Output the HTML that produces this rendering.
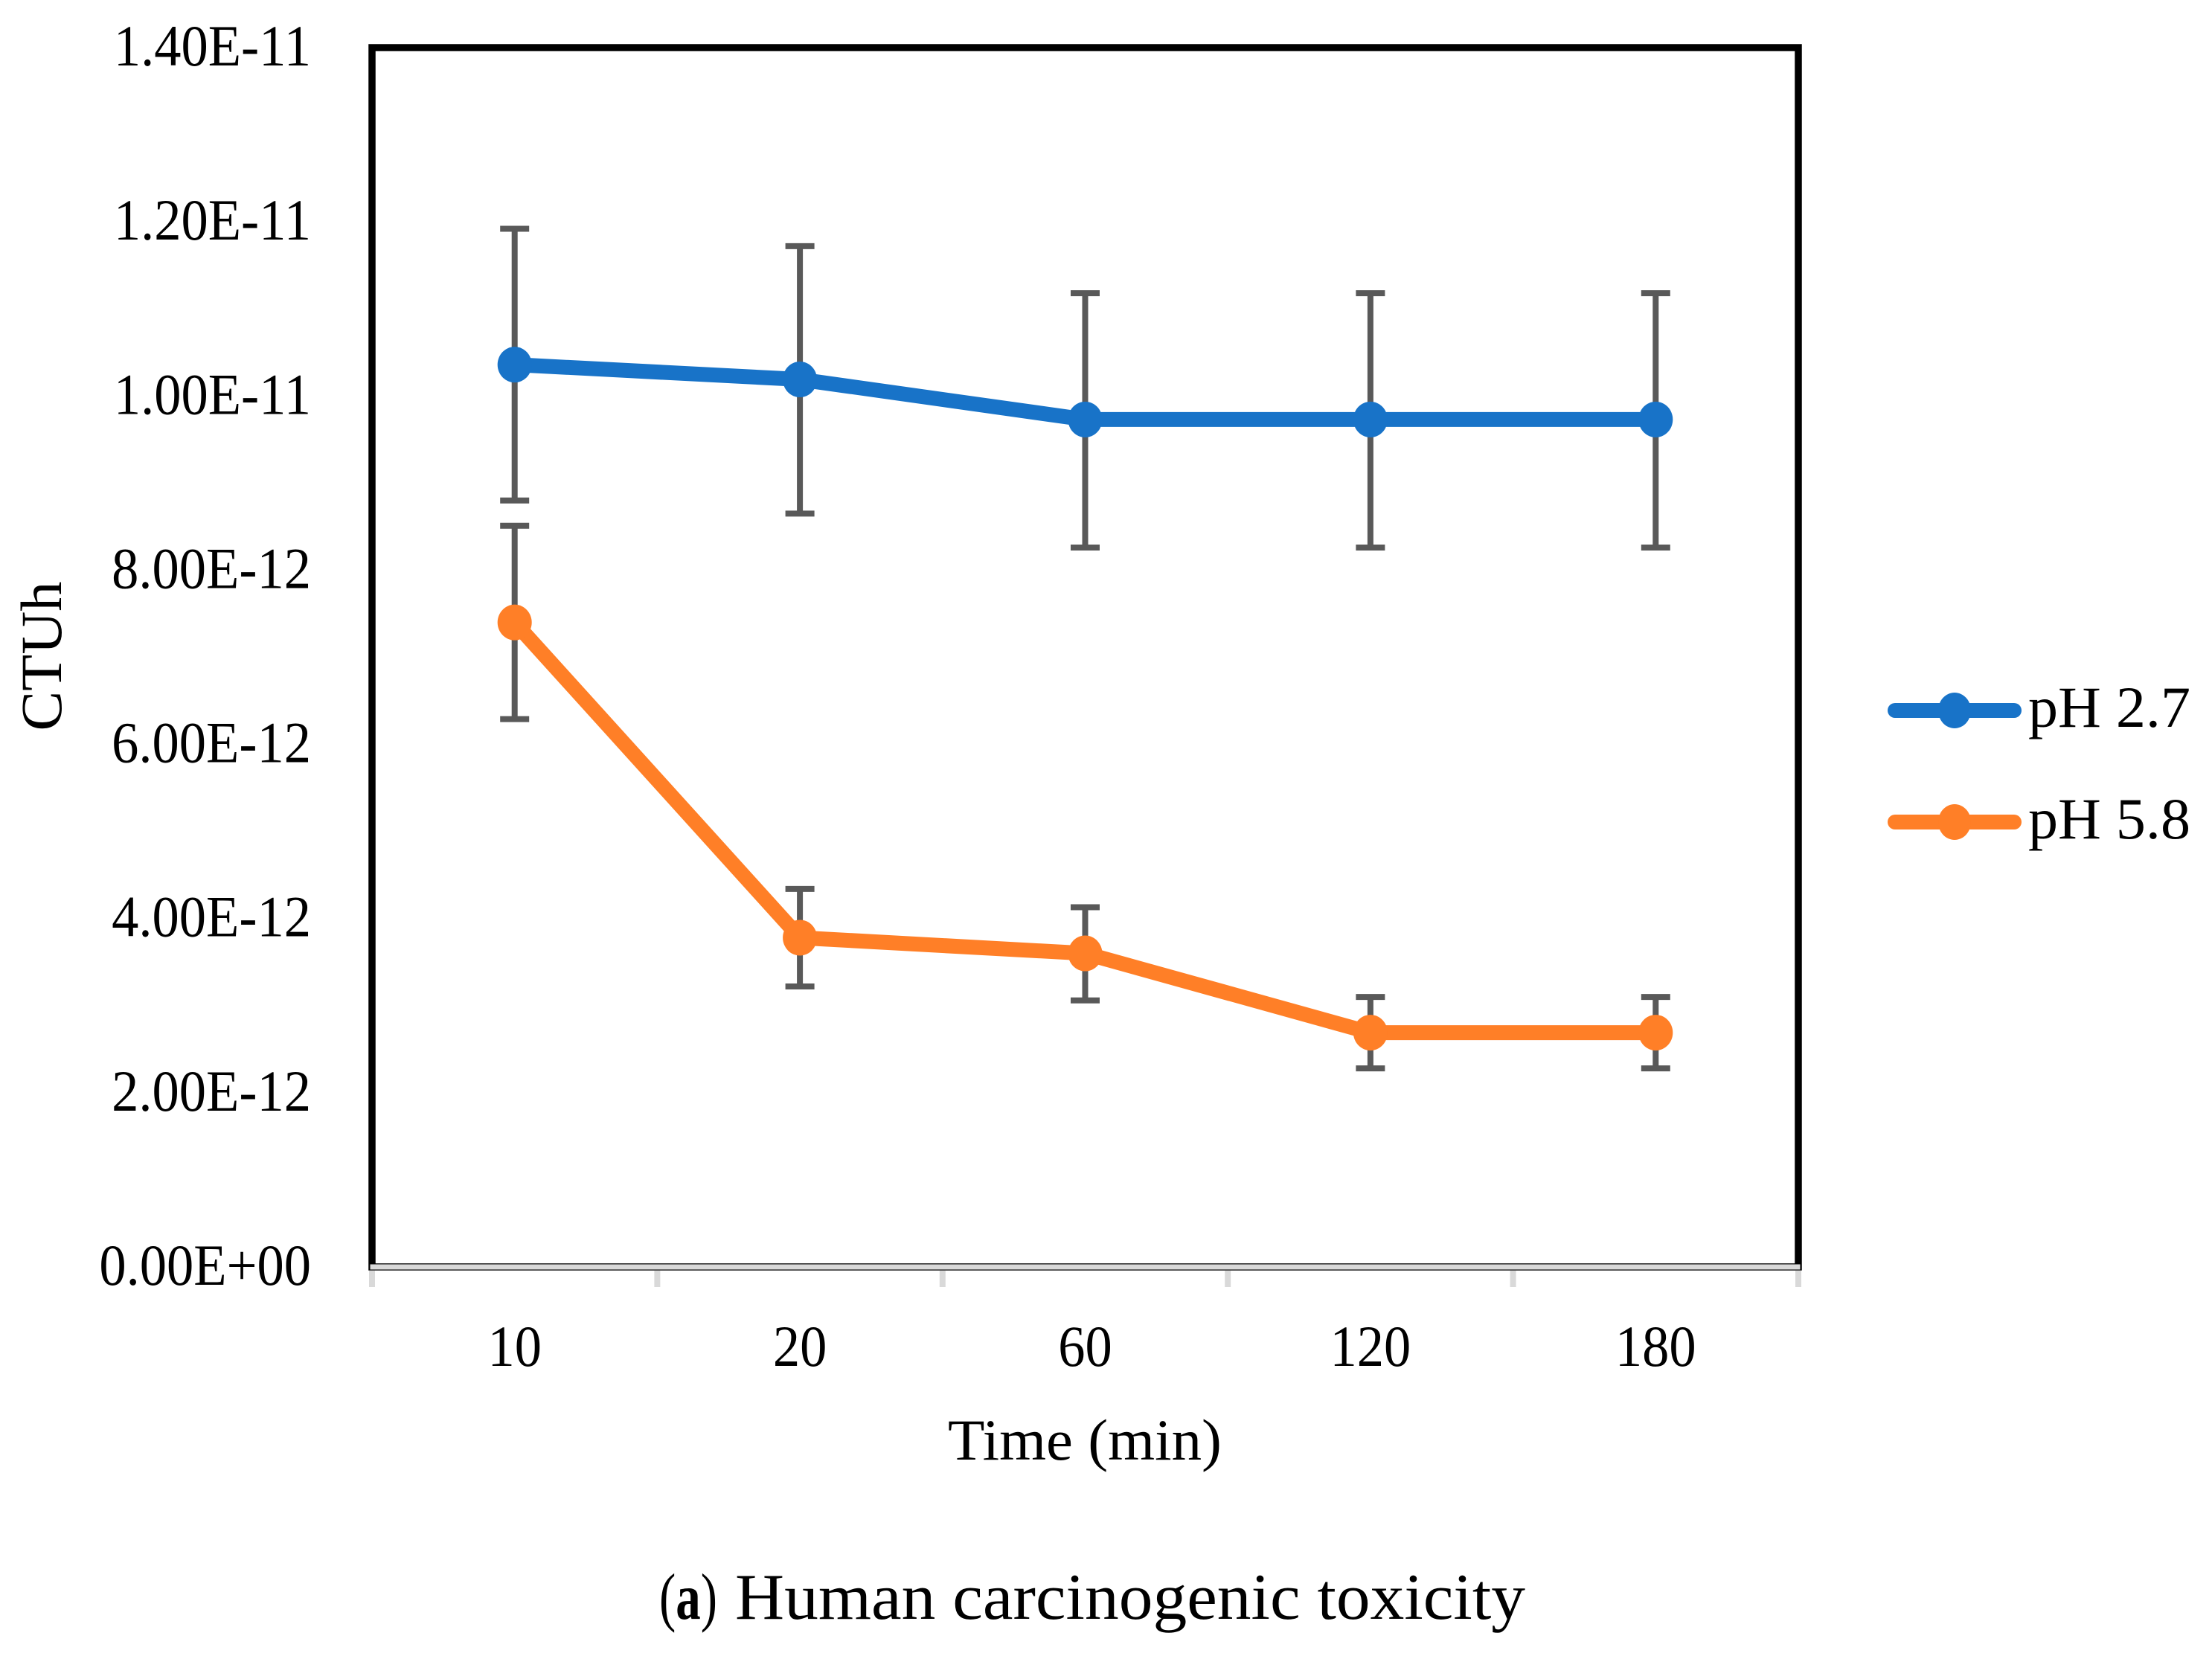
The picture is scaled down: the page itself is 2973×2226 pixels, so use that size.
<!DOCTYPE html>
<html lang="en">
<head>
<meta charset="utf-8">
<title>Human carcinogenic toxicity</title>
<style>
html,body{margin:0;padding:0;background:#fff;}
svg{display:block;}
text{font-family:"Liberation Serif",serif;fill:#000;}
</style>
</head>
<body>
<svg id="chart" xmlns="http://www.w3.org/2000/svg" width="2973" height="2226" viewBox="0 0 2973 2226">
  <rect x="0" y="0" width="2973" height="2226" fill="#ffffff"/>
  <g id="layer-frame"></g>
  <g id="layer-errors"></g>
  <g id="layer-series"></g>
  <g id="layer-axis"></g>
  <text transform="translate(82,882) rotate(-90)" text-anchor="middle" font-size="78" textLength="201" lengthAdjust="spacingAndGlyphs">CTUh</text>
  <text x="1458" y="1962" text-anchor="middle" font-size="78" textLength="368" lengthAdjust="spacingAndGlyphs">Time (min)</text>
  <g>
    <g>
      <line x1="2547" y1="955" x2="2707" y2="955" stroke="#1873c8" stroke-width="20" stroke-linecap="round"/>
      <ellipse cx="2627" cy="955" rx="22" ry="24" fill="#1873c8"/>
      <text x="2726" y="977" font-size="78" textLength="218" lengthAdjust="spacingAndGlyphs">pH 2.7</text>
    </g>
    <g>
      <line x1="2547" y1="1105" x2="2707" y2="1105" stroke="#ff7f27" stroke-width="20" stroke-linecap="round"/>
      <ellipse cx="2627" cy="1105" rx="22" ry="24" fill="#ff7f27"/>
      <text x="2726" y="1127" font-size="78" textLength="218" lengthAdjust="spacingAndGlyphs">pH 5.8</text>
    </g>
  </g>
  <g>
    <text x="886" y="2176" font-size="88" textLength="78" lengthAdjust="spacingAndGlyphs">(<tspan font-weight="bold">a</tspan>)</text>
    <text x="988" y="2176" font-size="88" textLength="1062" lengthAdjust="spacingAndGlyphs">Human carcinogenic toxicity</text>
  </g>
</svg>
<script>
// Chart data (y values in units of 1e-12 CTUh)
const categories = ['10', '20', '60', '120', '180'];
const yTickValues = [0, 2, 4, 6, 8, 10, 12, 14];
const yTickLabels = ['0.00E+00', '2.00E-12', '4.00E-12', '6.00E-12', '8.00E-12', '1.00E-11', '1.20E-11', '1.40E-11'];
const ph27Values = [10.36, 10.19, 9.73, 9.73, 9.73];
const ph27Upper = [11.92, 11.72, 11.18, 11.18, 11.18];
const ph27Lower = [8.80, 8.65, 8.26, 8.26, 8.26];
const ph58Values = [7.40, 3.78, 3.60, 2.69, 2.69];
const ph58Upper = [8.51, 4.34, 4.13, 3.10, 3.10];
const ph58Lower = [6.29, 3.22, 3.06, 2.28, 2.28];

const NS = 'http://www.w3.org/2000/svg';
const plotLeft = 500, plotRight = 2417, plotTop = 64, plotBottom = 1703;
const yMax = 14;
const bandWidth = (plotRight - plotLeft) / categories.length;

function xAt(i) { return plotLeft + bandWidth * (i + 0.5); }
function xEdge(i) { return plotLeft + bandWidth * i; }
function yAt(v) { return plotBottom - (v / yMax) * (plotBottom - plotTop); }

function make(tag, parent) {
  const el = document.createElementNS(NS, tag);
  parent.appendChild(el);
  return el;
}
function setLine(el, x1, y1, x2, y2, color, width) {
  el.setAttribute('x1', x1);
  el.setAttribute('y1', y1);
  el.setAttribute('x2', x2);
  el.setAttribute('y2', y2);
  el.setAttribute('stroke', color);
  el.setAttribute('stroke-width', width);
}

const frameLayer = document.getElementById('layer-frame');
const errorLayer = document.getElementById('layer-errors');
const seriesLayer = document.getElementById('layer-series');
const axisLayer = document.getElementById('layer-axis');

// Plot frame
const frame = make('rect', frameLayer);


frame.setAttribute('x', plotLeft);
frame.setAttribute('y', plotTop);
frame.setAttribute('width', plotRight - plotLeft);
frame.setAttribute('height', plotBottom - plotTop);
frame.setAttribute('fill', '#ffffff');
frame.setAttribute('stroke', '#000000');
frame.setAttribute('stroke-width', 9.5);

// Error bars
function drawErrors(upper, lower, key) {
  upper.forEach(function (u, i) {
    const x = xAt(i);
    const stem = make('line', errorLayer);
    
    
    setLine(stem, x, yAt(u), x, yAt(lower[i]), '#595959', 8);
    const capTop = make('line', errorLayer);
    
    
    setLine(capTop, x - 19.5, yAt(u), x + 19.5, yAt(u), '#595959', 8);
    const capBottom = make('line', errorLayer);
    
    
    setLine(capBottom, x - 19.5, yAt(lower[i]), x + 19.5, yAt(lower[i]), '#595959', 8);
  });
}
drawErrors(ph27Upper, ph27Lower, 'ph-2-7');
drawErrors(ph58Upper, ph58Lower, 'ph-5-8');

// Series
function drawSeries(values, color, key) {
  const line = make('polyline', seriesLayer);
  
  
  line.setAttribute('points', values.map(function (v, i) { return xAt(i) + ',' + yAt(v); }).join(' '));
  line.setAttribute('fill', 'none');
  line.setAttribute('stroke', color);
  line.setAttribute('stroke-width', 20);
  line.setAttribute('stroke-linejoin', 'round');
  values.forEach(function (v, i) {
    const dot = make('ellipse', seriesLayer);
    
    
    dot.setAttribute('cx', xAt(i));
    dot.setAttribute('cy', yAt(v));
    dot.setAttribute('rx', 23);
    dot.setAttribute('ry', 24);
    dot.setAttribute('fill', color);
  });
}
drawSeries(ph27Values, '#1873c8', 'ph-2-7');
drawSeries(ph58Values, '#ff7f27', 'ph-5-8');

// X axis band
const axisBand = make('rect', axisLayer);


axisBand.setAttribute('x', plotLeft - 3);
axisBand.setAttribute('y', plotBottom - 4);
axisBand.setAttribute('width', plotRight - plotLeft + 6);
axisBand.setAttribute('height', 8);
axisBand.setAttribute('fill', '#d9d9d9');
axisBand.setAttribute('stroke', '#000000');
axisBand.setAttribute('stroke-width', 1);

// X ticks
for (let i = 0; i <= categories.length; i++) {
  const tick = make('rect', axisLayer);
  
  
  tick.setAttribute('x', xEdge(i) - 4);
  tick.setAttribute('y', plotBottom + 5);
  tick.setAttribute('width', 8);
  tick.setAttribute('height', 22);
  tick.setAttribute('fill', '#d9d9d9');
}

// X labels
categories.forEach(function (c, i) {
  const t = make('text', axisLayer);
  
  
  t.setAttribute('transform', 'translate(' + xAt(i) + ',1836) scale(0.93,1)');
  t.setAttribute('text-anchor', 'middle');
  t.setAttribute('font-size', 78);
  t.textContent = c;
});

// Y labels
yTickValues.forEach(function (v, i) {
  const t = make('text', axisLayer);
  
  
  t.setAttribute('transform', 'translate(418,' + (yAt(v) + 24) + ') scale(0.93,1)');
  t.setAttribute('text-anchor', 'end');
  t.setAttribute('font-size', 78);
  t.textContent = yTickLabels[i];
});
</script>
</body>
</html>
